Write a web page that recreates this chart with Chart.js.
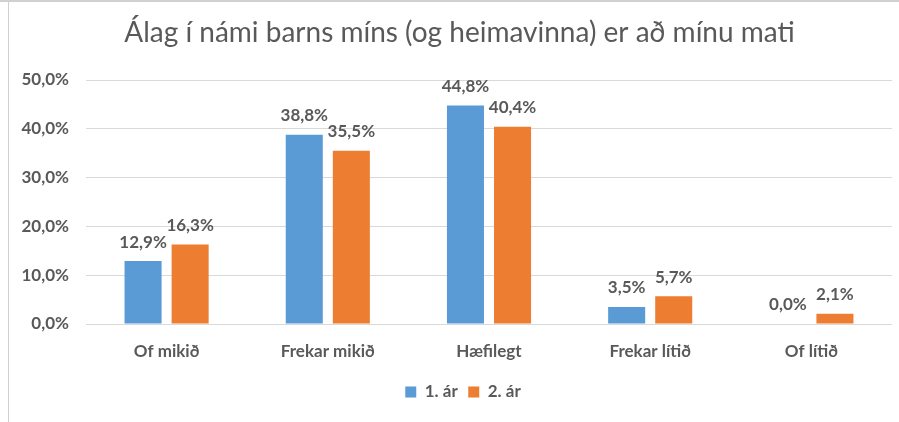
<!DOCTYPE html>
<html>
<head>
<meta charset="utf-8">
<script src="https://cdn.jsdelivr.net/npm/chart.js@4"></script>
<style>
  html, body { margin: 0; padding: 0; background: #fff; }
  body { width: 899px; height: 422px; overflow: hidden; position: relative; }
  #frame { position: absolute; left: 0; top: 0; width: 899px; height: 422px; border-top: 2px solid #d0d0d0; box-sizing: border-box; }
  #inner { position: absolute; left: 8px; top: 0; width: 891px; height: 422px; border-left: 1px solid #d0d0d0; box-sizing: border-box; }
  canvas { position: absolute; left: 0; top: 0; }
</style>
</head>
<body>
<div id="frame"></div>
<div id="inner"></div>
<canvas id="c" width="899" height="422"></canvas>
<script>
const categories = ["Of mikið", "Frekar mikið", "Hæfilegt", "Frekar lítið", "Of lítið"];
const seriesNames = ["1. ár", "2. ár"];
const year1 = [12.9, 38.8, 44.8, 3.5, 0.0];
const year2 = [16.3, 35.5, 40.4, 5.7, 2.1];
const yTicks = [0, 10, 20, 30, 40, 50];
const titleText = "Álag í námi barns míns (og heimavinna) er að mínu mati";

const TEXT = "#595959";
const FONT = "Lato, 'Open Sans', sans-serif";
const SMALL = 17;
const fmt = v => v.toFixed(1).replace(".", ",") + "%";

const labelPlugin = {
  id: "barLabels",
  afterDatasetsDraw(chart) {
    const ctx = chart.ctx;
    ctx.save();
    ctx.font = "bold " + SMALL + "px " + FONT;
    ctx.fillStyle = TEXT;
    ctx.textAlign = "center";
    ctx.textBaseline = "middle";
    chart.data.datasets.forEach((ds, i) => {
      const meta = chart.getDatasetMeta(i);
      meta.data.forEach((bar, j) => {
        ctx.fillText(fmt(ds.data[j]), bar.x, bar.y - 19);
      });
    });
    ctx.restore();
  }
};

// Shift title and legend horizontally to match the reference centring
const shiftPlugin = {
  id: "shiftBlocks",
  afterLayout(chart) {
    if (chart.titleBlock) { chart.titleBlock.left = 27; }
    if (chart.legend) { chart.legend.left += 11; chart.legend.right += 11; }
  }
};

new Chart(document.getElementById("c"), {
  type: "bar",
  data: {
    labels: categories,
    datasets: [
      { label: seriesNames[0], data: year1, backgroundColor: "#5B9BD5" },
      { label: seriesNames[1], data: year2, backgroundColor: "#ED7D31" }
    ]
  },
  options: {
    responsive: false,
    animation: false,
    devicePixelRatio: 1,
    layout: { padding: { left: 12, right: 7, top: 12, bottom: 11.5 } },
    datasets: { bar: { categoryPercentage: 0.584, barPercentage: 0.787 } },
    plugins: {
      title: {
        display: true,
        text: titleText,
        color: TEXT,
        font: { family: FONT, size: 28, weight: "normal", lineHeight: 1.2 },
        padding: { top: 4, bottom: 30.4 }
      },
      legend: {
        position: "bottom",
        labels: {
          color: TEXT,
          boxWidth: 11,
          boxHeight: 11,
          padding: 10.5,
          font: { family: FONT, size: SMALL, weight: "bold" }
        }
      },
      tooltip: { enabled: false }
    },
    scales: {
      x: {
        afterFit: s => { s.height = 49; },
        grid: { display: false, drawTicks: false },
        border: { display: false },
        ticks: { color: TEXT, padding: 17, font: { family: FONT, size: SMALL, weight: "bold" } }
      },
      y: {
        min: 0,
        max: 50,
        afterBuildTicks: s => { s.ticks = yTicks.map(v => ({ value: v })); },
        afterFit: s => { s.width = 74; },
        grid: { color: "#D9D9D9", lineWidth: 1, drawTicks: false },
        border: { display: false },
        ticks: { color: TEXT, padding: 17, font: { family: FONT, size: SMALL, weight: "bold" }, callback: v => fmt(v) }
      }
    }
  },
  plugins: [labelPlugin, shiftPlugin]
});
</script>
</body>
</html>
